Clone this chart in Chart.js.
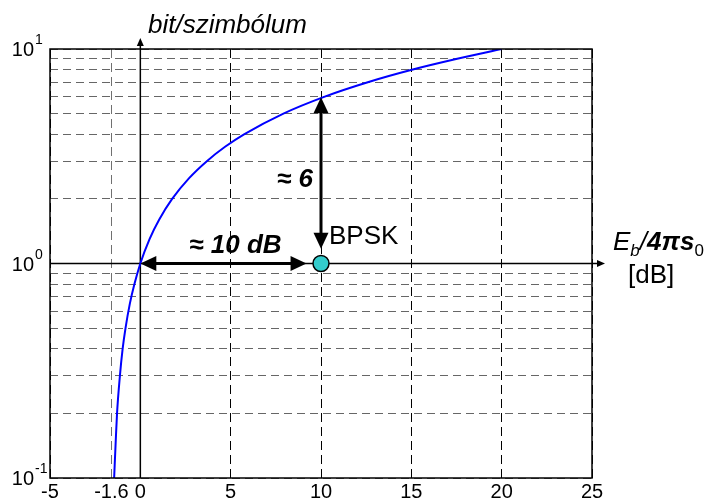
<!DOCTYPE html>
<html>
<head>
<meta charset="utf-8">
<script src="https://cdn.jsdelivr.net/npm/chart.js@4"></script>
<style>
  body { margin: 0; background: #fff; }
</style>
</head>
<body>
<canvas id="chart" width="704" height="499"></canvas>
<script>
// Shannon-limit curve: Eb/N0 in dB vs. bit/symbol
const curveX = [-1.45, -1.36, -1.29, -1.13, -0.98, -0.82, -0.58, -0.33, 0, 0.51, 1.04, 1.76, 2.70, 3.68, 4.69, 5.74, 7.92, 10.21, 12.59, 15.03, 17.54, 20.0];
const curveY = [0.1, 0.15, 0.2, 0.3, 0.4, 0.5, 0.65, 0.8, 1, 1.3, 1.6, 2, 2.5, 3, 3.5, 4, 5, 6, 7, 8, 9, 10];

// BPSK operating point
const bpskX = [10];
const bpskY = [1];

// axis ticks / grid lines
const xTicks = [-5, -1.6, 0, 5, 10, 15, 20, 25];
const yGrid = [0.1, 0.2, 0.3, 0.4, 0.5, 0.6, 0.7, 0.8, 0.9, 1, 2, 3, 4, 5, 6, 7, 8, 9, 10];
const yLabels = [[0.1, '-1'], [1, '0'], [10, '1']];

// annotation arrows (data units)
const arrowH = [0, 9.2];      // x from / to at y = 1
const arrowV = [5.95, 1.17];  // y from / to at x = 10

const FONT = ' Arial, "Liberation Sans", sans-serif';

function arrowHead(ctx, tx, ty, dx, dy, len, half) {
  // tip at (tx,ty), pointing in direction (dx,dy)
  ctx.beginPath();
  ctx.moveTo(tx, ty);
  ctx.lineTo(tx - dx * len - dy * half, ty - dy * len + dx * half);
  ctx.lineTo(tx - dx * len + dy * half, ty - dy * len - dx * half);
  ctx.closePath();
  ctx.fill();
}

const axesPlugin = {
  id: 'axesLines',
  beforeDatasetsDraw(chart) {
    const { ctx, chartArea: a, scales: { x, y } } = chart;
    ctx.save();
    ctx.strokeStyle = '#000';
    ctx.fillStyle = '#000';
    // horizontal axis at y = 1, out past the frame
    const y1 = y.getPixelForValue(1);
    ctx.lineWidth = 1.5;
    ctx.beginPath();
    ctx.moveTo(a.left, y1);
    ctx.lineTo(a.right + 8, y1);
    ctx.stroke();
    arrowHead(ctx, a.right + 13, y1, 1, 0, 8, 3.5);
    // vertical axis at x = 0
    const x0 = x.getPixelForValue(0);
    ctx.beginPath();
    ctx.moveTo(x0, a.bottom);
    ctx.lineTo(x0, a.top - 6);
    ctx.stroke();
    arrowHead(ctx, x0, a.top - 11, 0, -1, 8, 3.5);
    ctx.restore();
  },
  afterDatasetsDraw(chart) {
    const { ctx, chartArea: a, scales: { x, y } } = chart;
    ctx.save();
    // frame
    ctx.strokeStyle = '#000';
    ctx.lineWidth = 1.5;
    ctx.strokeRect(a.left, a.top, a.right - a.left, a.bottom - a.top);

    // y tick labels 10^n
    ctx.fillStyle = '#000';
    ctx.textBaseline = 'alphabetic';
    yLabels.forEach(([v, e]) => {
      const py = y.getPixelForValue(v);
      ctx.font = '20px' + FONT;
      ctx.textAlign = 'right';
      ctx.fillText('10', a.left - 16, py + 7);
      ctx.font = '14px' + FONT;
      ctx.textAlign = 'left';
      ctx.fillText(e, a.left - 15, py - 5);
    });

    // double arrow along y = 1
    const y1 = y.getPixelForValue(1);
    const hx0 = x.getPixelForValue(arrowH[0]);
    const hx1 = x.getPixelForValue(arrowH[1]);
    ctx.lineWidth = 3;
    ctx.beginPath();
    ctx.moveTo(hx0 + 10, y1);
    ctx.lineTo(hx1 - 10, y1);
    ctx.stroke();
    arrowHead(ctx, hx0, y1, -1, 0, 16, 7.5);
    arrowHead(ctx, hx1, y1, 1, 0, 16, 7.5);

    // double arrow at x = 10
    const vx = x.getPixelForValue(10);
    const vy0 = y.getPixelForValue(arrowV[0]);
    const vy1 = y.getPixelForValue(arrowV[1]);
    ctx.beginPath();
    ctx.moveTo(vx, vy0 + 10);
    ctx.lineTo(vx, vy1 - 10);
    ctx.stroke();
    arrowHead(ctx, vx, vy0, 0, -1, 16, 7.5);
    arrowHead(ctx, vx, vy1, 0, 1, 16, 7.5);

    // annotation texts
    ctx.font = 'italic bold 26px' + FONT;
    ctx.textAlign = 'center';
    ctx.fillText('\u2248 10 dB', (hx0 + hx1) / 2 + 12, y1 - 11);
    ctx.textAlign = 'right';
    ctx.fillText('\u2248 6', vx - 8, 187);
    ctx.font = '26px' + FONT;
    ctx.textAlign = 'left';
    ctx.fillText('BPSK', vx + 8, y1 - 20);

    // axis titles
    ctx.font = 'italic 26px' + FONT;
    ctx.fillText('bit/szimbólum', 148, 33);

    let tx = 613;
    const ty = 250;
    const parts = [
      ['E', 'italic 26px', 0],
      ['b', 'italic 17px', 6],
      ['/', 'italic 26px', 0],
      ['4\u03c0s', 'italic bold 26px', 0],
      ['0', '17px', 6]
    ];
    parts.forEach(([t, f, dy]) => {
      ctx.font = f + FONT;
      ctx.fillText(t, tx, ty + dy);
      tx += ctx.measureText(t).width;
    });
    ctx.font = '26px' + FONT;
    ctx.fillText('[dB]', 628, 283);
    ctx.restore();
  }
};

new Chart(document.getElementById('chart'), {
  type: 'scatter',
  data: {
    datasets: [{
      label: 'Shannon',
      data: curveX.map((v, i) => ({ x: v, y: curveY[i] })),
      showLine: true,
      borderColor: '#0000ff',
      borderWidth: 2,
      pointRadius: 0,
      cubicInterpolationMode: 'monotone'
    }, {
      label: 'BPSK',
      data: bpskX.map((v, i) => ({ x: v, y: bpskY[i] })),
      pointRadius: 8,
      pointHoverRadius: 8,
      backgroundColor: '#33cccc',
      borderColor: '#000',
      borderWidth: 1.5,
      clip: false
    }]
  },
  options: {
    responsive: false,
    animation: false,
    layout: { padding: { left: 50, right: 112, top: 49, bottom: -7 } },
    plugins: {
      legend: { display: false },
      tooltip: { enabled: false }
    },
    scales: {
      x: {
        type: 'linear',
        min: -5,
        max: 25,
        afterBuildTicks: (scale) => { scale.ticks = xTicks.map(v => ({ value: v })); },
        ticks: {
          autoSkip: false,
          maxRotation: 0,
          padding: 4,
          color: '#000',
          font: { family: 'Arial, "Liberation Sans", sans-serif', size: 20, lineHeight: 1 },
          callback: (v) => String(v)
        },
        grid: {
          drawTicks: false,
          color: (c) => (c.tick && c.tick.value === -1.6 ? '#707070' : '#000'),
          lineWidth: 1,
          borderDash: [9, 5]
        },
        border: { display: false, dash: [9, 5] }
      },
      y: {
        type: 'logarithmic',
        min: 0.1,
        max: 10,
        afterBuildTicks: (scale) => { scale.ticks = yGrid.map(v => ({ value: v })); },
        ticks: { display: false },
        grid: {
          drawTicks: false,
          color: '#666',
          lineWidth: 1,
          borderDash: [8, 5]
        },
        border: { display: false, dash: [8, 5] }
      }
    }
  },
  plugins: [axesPlugin]
});
</script>
</body>
</html>
